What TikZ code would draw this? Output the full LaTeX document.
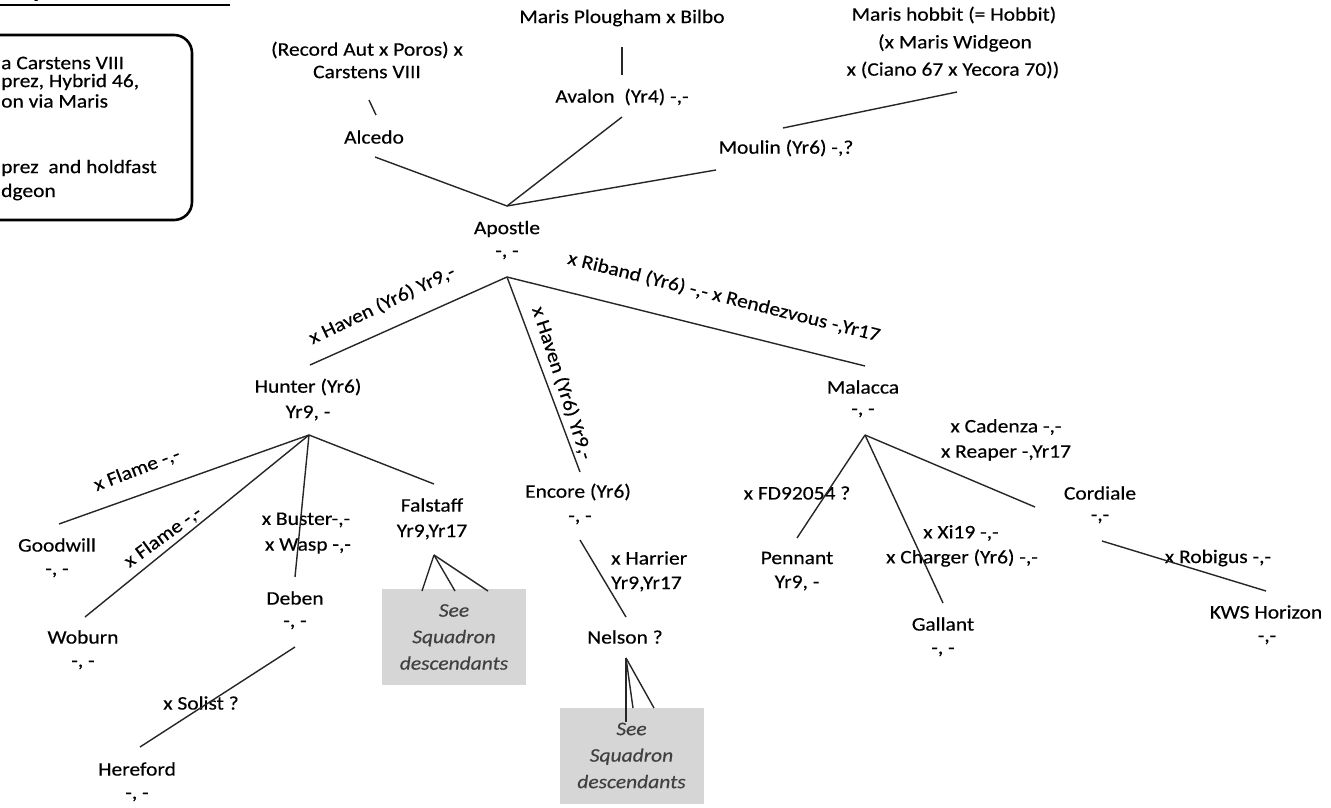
\documentclass[tikz,border=0pt]{standalone}
\usepackage{fontspec}
\setmainfont{Carlito}[FakeStretch=1.12, FakeBold=0.35]
\begin{document}
\begin{tikzpicture}[x=1pt,y=-1pt,
  every node/.style={inner sep=0pt, font=\fontsize{19.2}{22}\selectfont, text=black},
  lnk/.style={draw=black!85, line width=1.4pt},
  seebox/.style={fill=black!16, minimum width=144pt, minimum height=96pt, align=center,
                 font=\fontsize{19.2}{26.5}\selectfont\itshape, text=black!75},
  legline/.style={anchor=west},
]
\useasboundingbox[fill=white] (0,0) rectangle (1331,808);

% heading, mostly above the top edge
\node[anchor=base east, font=\fontsize{22}{24}\selectfont\bfseries] (title) at (230,-2.5) {Apostle descendants};
\draw[line width=2.5pt] (0,5) -- (230,5);

% notes box on the left
\draw[line width=2.6pt, rounded corners=18pt] (-30,35) rectangle (192,220);
\node[legline] (n1) at (1,63) {a Carstens VIII};
\node[legline] (n2) at (1,82) {prez, Hybrid 46,};
\node[legline] (n3) at (1,101) {on via Maris};
\node[legline] (n4) at (1,168) {prez\ \ and holdfast};
\node[legline] (n5) at (1,192) {dgeon};

% parents of Apostle
\node (ra1) at (367,50) {(Record Aut x Poros) x};
\node (ra2) at (367,72) {Carstens VIII};
\node (alcedo) at (374,137) {Alcedo};
\node (mpb) at (622,18) {Maris Plougham x Bilbo};
\node (avalon) at (622,97) {Avalon\ \ (Yr4) -,-};
\node (mh1) at (954,15) {Maris hobbit (= Hobbit)};
\node (mh2) at (955,43) {(x Maris Widgeon};
\node (mh3) at (953,70) {x (Ciano 67 x Yecora 70))};
\node (moulin) at (786,148) {Moulin (Yr6) -,?};

\coordinate (raB) at (369,100);
\coordinate (alT) at (376,115);
\coordinate (alB) at (375,157);
\coordinate (mpbB) at (622,47);
\coordinate (avT) at (622,75);
\coordinate (avB) at (622,117);
\coordinate (mhB) at (957,92);
\coordinate (moT) at (783,128);
\coordinate (moB) at (716,170);
\coordinate (apT) at (507,206);

\draw[lnk] (raB) -- (alT);
\draw[lnk] (mpbB) -- (avT);
\draw[lnk] (mhB) -- (moT);
\draw[lnk] (alB) -- (apT);
\draw[lnk] (avB) -- (apT);
\draw[lnk] (moB) -- (apT);

% Apostle
\node (apostle) at (507,229) {Apostle};
\node (apostleR) at (507,255) {-, -};
\coordinate (apB) at (507,277);

% first generation
\node (hunter) at (308,387) {Hunter (Yr6)};
\node (hunterR) at (308,413) {Yr9, -};
\node (encore) at (578,492) {Encore (Yr6)};
\node (encoreR) at (580,520) {-, -};
\node (malacca) at (863,387) {Malacca};
\node (malaccaR) at (863,413) {-, -};

\coordinate (huT) at (310,365);
\coordinate (enT) at (580,472);
\coordinate (maT) at (865,366);
\draw[lnk] (apB) -- (huT);
\draw[lnk] (apB) -- (enT);
\draw[lnk] (apB) -- (maT);
\node[rotate=25.5] (lhu) at (382,305) {x Haven (Yr6) Yr9,-};
\node[rotate=-72] (len) at (562,383) {x Haven (Yr6) Yr9,-};
\node[rotate=-14] (lma) at (724,297) {x Riband (Yr6) -,- x Rendezvous -,Yr17};

% Hunter's offspring
\coordinate (huB) at (309,435);
\node (goodwill) at (57,545) {Goodwill};
\node (goodwillR) at (57,573) {-, -};
\node (woburn) at (83,637) {Woburn};
\node (woburnR) at (83,665) {-, -};
\node (buster) at (306,520) {x Buster-,-};
\node (wasp) at (308,546) {x Wasp -,-};
\node (deben) at (295,598) {Deben};
\node (debenR) at (295,625) {-, -};
\node (solist) at (201,703) {x Solist ?};
\node (hereford) at (137,769) {Hereford};
\node (herefordR) at (137,797) {-, -};
\node (falstaff) at (432,505) {Falstaff};
\node (falstaffR) at (432,532) {Yr9,Yr17};
\node[seebox] (fbox) at (454,637) {See\\Squadron\\descendants};

\coordinate (gwT) at (59,524);
\coordinate (wbT) at (85,617);
\coordinate (dbT) at (295,577);
\coordinate (fsT) at (434,484);
\coordinate (dbB) at (295,647);
\coordinate (hfT) at (140,747);
\coordinate (fsB) at (434,555);
\coordinate (fb1) at (422,591);
\coordinate (fb2) at (455,591);
\coordinate (fb3) at (488,591);
\draw[lnk] (huB) -- (gwT);
\draw[lnk] (huB) -- (wbT);
\draw[lnk] (huB) -- (dbT);
\draw[lnk] (huB) -- (fsT);
\draw[lnk] (dbB) -- (hfT);
\draw[lnk] (fsB) -- (fb1);
\draw[lnk] (fsB) -- (fb2);
\draw[lnk] (fsB) -- (fb3);
\node[rotate=21] (lgw) at (137,470) {x Flame -,-};
\node[rotate=36] (lwb) at (163,537) {x Flame -,-};

% Encore's offspring
\node (harrier) [anchor=west] at (611,558) {x Harrier};
\node (harrierR) [anchor=west] at (611,584) {Yr9,Yr17};
\node (nelson) at (625,637) {Nelson ?};
\node[seebox] (nbox) at (631.5,755.5) {See\\Squadron\\descendants};
\coordinate (enB) at (580,540);
\coordinate (neT) at (626,617);
\coordinate (neB) at (626,658);
\coordinate (nb1) at (626,722);
\coordinate (nb2) at (633,708);
\coordinate (nb3) at (654,708);
\draw[lnk] (enB) -- (neT);
\draw[lnk] (neB) -- (nb1);
\draw[lnk] (neB) -- (nb2);
\draw[lnk] (neB) -- (nb3);

% Malacca's offspring
\coordinate (maB) at (865,435);
\node (fd) at (797,493) {x FD92054 ?};
\node (pennant) at (797,558) {Pennant};
\node (pennantR) at (797,583) {Yr9, -};
\node (xi) at (961,533) {x Xi19 -,-};
\node (charger) at (962,558) {x Charger (Yr6) -,-};
\node (gallant) at (943,624) {Gallant};
\node (gallantR) at (943,652) {-, -};
\node (cadenza) at (1006,427) {x Cadenza -,-};
\node (reaper) at (1006,453) {x Reaper -,Yr17};
\node (cordiale) at (1100,493) {Cordiale};
\node (cordialeR) at (1100,519) {-,-};
\node (robigus) at (1218,558) {x Robigus -,-};
\node (kws) at (1266,612) {KWS Horizon};
\node (kwsR) at (1267,640) {-,-};

\coordinate (peT) at (797,538);
\coordinate (gaT) at (943,603);
\coordinate (coT) at (1035,507);
\coordinate (coB) at (1102,541);
\coordinate (kwT) at (1266,591);
\draw[lnk] (maB) -- (peT);
\draw[lnk] (maB) -- (gaT);
\draw[lnk] (maB) -- (coT);
\draw[lnk] (coB) -- (kwT);
\end{tikzpicture}
\end{document}
